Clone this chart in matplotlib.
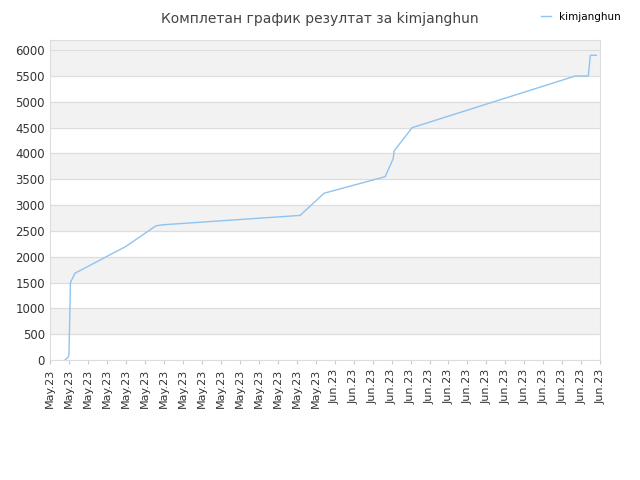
import matplotlib
matplotlib.use("Agg")
import matplotlib.pyplot as plt
import numpy as np

tick_labels = ["May.23"] * 15 + ["Jun.23"] * 15
px = [65, 68, 69, 70, 70.5, 75, 126, 156, 164, 300, 324, 385, 393, 394, 412, 575, 588, 590, 596]
vals = [0, 50, 100, 1000, 1500, 1680, 2200, 2600, 2620, 2800, 3230, 3550, 3900, 4050, 4500, 5500, 5500, 5900, 5900]
x = [(p - 50) / (550 / 29) for p in px]

fig = plt.figure(figsize=(6.4, 4.8), dpi=100)
ax = fig.add_axes([0.078, 0.25, 0.86, 0.667])
ax.set_xlim(0, 29)
ax.set_ylim(0, 6200)
for lo in range(500, 6000, 1000):
    ax.axhspan(lo, lo + 500, color="#f2f2f2", zorder=0)
ax.axhspan(6000, 6200, color="#f2f2f2", zorder=0)
ax.set_yticks(range(0, 6001, 500))
ax.grid(axis="y", color="#dddddd", lw=0.8)
ax.set_axisbelow(True)
ax.plot(x, vals, color="#8fc3f0", lw=1, label="kimjanghun")
ax.set_xticks(range(30))
ax.set_xticklabels(tick_labels, rotation=90, fontsize=8, color="#333333")
ax.tick_params(axis="y", labelsize=8.5, colors="#333333", length=0)
ax.tick_params(axis="x", length=3, color="#cccccc")
for s in ax.spines.values():
    s.set_color("#dddddd")
fig.text(0.5, 0.975, "Комплетан график резултат за kimjanghun", ha="center", va="top", fontsize=10, color="#444444")
fig.legend(loc="upper right", bbox_to_anchor=(0.985, 0.995), frameon=False, fontsize=7.5, handlelength=1)
fig.savefig("out.png")
